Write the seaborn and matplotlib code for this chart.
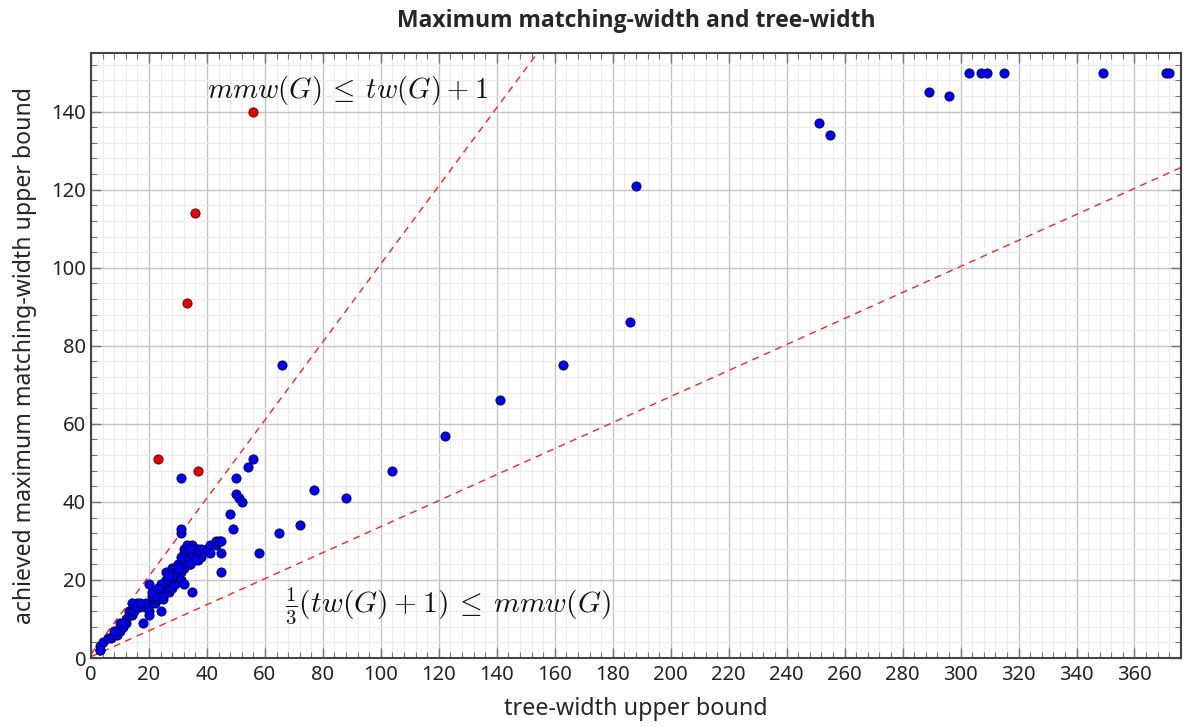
import numpy as np
import pandas as pd
import matplotlib
matplotlib.use("Agg")
import matplotlib.pyplot as plt
import seaborn as sns
from matplotlib.ticker import MultipleLocator

# ---- data ----
blue_tw = [3, 3, 4, 3, 6, 7, 8, 9, 9, 10, 10, 11, 10, 12, 12, 13, 14, 13, 14, 15, 15, 16, 14, 17, 16,
           18, 19, 19, 20, 21, 22, 22, 23, 20, 23, 24, 24, 25, 25, 26, 26, 27, 27, 27, 28, 28, 29, 29,
           29, 30, 30, 30, 31, 31, 31, 32, 32, 32, 33, 33, 34, 32, 33, 33, 34, 35, 35, 36, 36, 37, 37,
           38, 38, 35, 31, 31, 31, 40, 41, 41, 43, 43, 44, 45, 45, 45, 48, 49, 50, 51, 52, 50, 54, 56,
           58, 65, 66, 72, 77, 88, 104, 122, 141, 163, 186, 188, 251, 255, 289, 296, 303, 307, 309,
           315, 349, 371, 372, 20, 25, 26, 28, 29, 30, 34, 36, 37, 33, 35, 21, 22, 24, 28,
           32, 34, 35, 36, 33, 34, 31, 30, 26, 27, 24, 23, 21, 17, 11, 8]
blue_mmw = [2, 3, 4, 2, 5, 5, 6, 6, 7, 7, 8, 8, 9, 9, 10, 11, 11, 12, 12, 13, 12, 14, 14, 13, 13,
            9, 13, 14, 12, 14, 14, 15, 15, 19, 16, 17, 12, 15, 17, 18, 22, 17, 18, 19, 18, 20, 19, 21,
            23, 20, 21, 22, 22, 24, 20, 19, 23, 25, 24, 26, 25, 28, 28, 27, 27, 27, 25, 26, 28, 27, 28,
            28, 26, 17, 32, 33, 46, 28, 29, 27, 29, 30, 30, 30, 27, 22, 37, 33, 42, 41, 40, 46, 49, 51,
            27, 32, 75, 34, 43, 41, 48, 57, 66, 75, 86, 121, 137, 134, 145, 144, 150, 150, 150,
            150, 150, 150, 150, 11, 16, 20, 23, 22, 24, 24, 27, 25, 29, 29, 16, 16, 18, 21,
            27, 28, 26, 25, 25, 24, 26, 23, 20, 21, 19, 18, 17, 14, 9, 7]
red_tw = [23, 37, 33, 36, 56]
red_mmw = [51, 48, 91, 114, 140]

title = "Maximum matching-width and tree-width"
xlabel = "tree-width upper bound"
ylabel = "achieved maximum matching-width upper bound"

df = pd.DataFrame({
    "tw": blue_tw + red_tw,
    "mmw": blue_mmw + red_mmw,
    "group": ["ok"] * len(blue_tw) + ["bad"] * len(red_tw),
})

sns.set_theme(style="white")
plt.rcParams["font.family"] = ["Noto Sans", "DejaVu Sans"]
plt.rcParams["mathtext.fontset"] = "cm"

fig = plt.figure(figsize=(11.88, 7.27), dpi=100)
ax = fig.add_axes([0.0766, 0.0949, 0.9174, 0.8321])

XMAX, YMAX = 376, 155

# grid
ax.xaxis.set_major_locator(MultipleLocator(20))
ax.xaxis.set_minor_locator(MultipleLocator(4))
ax.yaxis.set_major_locator(MultipleLocator(20))
ax.yaxis.set_minor_locator(MultipleLocator(4))
ax.grid(which="major", color="#c4c4c4", linewidth=1.0, zorder=0)
ax.grid(which="minor", color="#ececec", linewidth=0.8, zorder=0)
ax.set_axisbelow(True)

# reference lines
xs = np.array([0, XMAX])
ax.plot(xs, xs + 1, color="#ff2020", lw=1.0, ls=(0, (5, 4)), zorder=2)
ax.plot(xs, (xs + 1) / 3, color="#ff2020", lw=1.0, ls=(0, (5, 4)), zorder=2)

sns.scatterplot(data=df[df.group == "ok"], x="tw", y="mmw", color="#0000ee",
                s=44, edgecolor="#000050", linewidth=0.6, legend=False, ax=ax, zorder=3)
sns.scatterplot(data=df[df.group == "bad"], x="tw", y="mmw", color="#ee0000",
                s=44, edgecolor="#500000", linewidth=0.6, legend=False, ax=ax, zorder=3)

ax.set_xlim(0, XMAX)
ax.set_ylim(0, YMAX)

ax.text(40, 145.5, r"$mmw(G)\:\leq\:tw(G)\:+\:1$", fontsize=20.6, ha="left", va="center", color="#111111")
ax.text(67, 13.5, r"$\frac{1}{3}(tw(G)\:+\:1)\:\leq\:mmw(G)$", fontsize=21.2, ha="left", va="center", color="#111111")

ax.set_title(title, fontsize=16.5, fontweight="bold", family=["Open Sans", "DejaVu Sans"],
             fontstretch="normal", pad=19)
ax.set_xlabel(xlabel, fontsize=16.8, labelpad=9)
ax.set_ylabel(ylabel, fontsize=16.6, labelpad=10)

ax.tick_params(which="both", direction="in", top=True, right=True, bottom=True, left=True,
               color="#777777", labelsize=14.5, labelcolor="#222222")
ax.tick_params(axis="x", which="major", pad=5)
ax.tick_params(which="major", length=7, width=1)
ax.tick_params(which="minor", length=4, width=0.8)
for sp in ax.spines.values():
    sp.set_color("#444444")
    sp.set_linewidth(1.5)

fig.savefig("out.png", dpi=100)
